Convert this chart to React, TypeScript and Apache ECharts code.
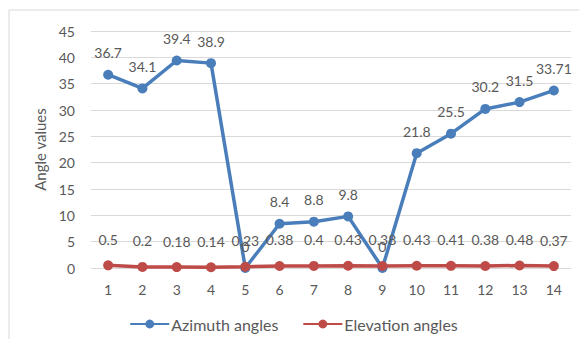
import React, { useEffect, useRef } from "react";
import * as echarts from "echarts";

const categories = ["1", "2", "3", "4", "5", "6", "7", "8", "9", "10", "11", "12", "13", "14"];
const azimuth = [36.7, 34.1, 39.4, 38.9, 0, 8.4, 8.8, 9.8, 0, 21.8, 25.5, 30.2, 31.5, 33.71];
const elevation = [0.5, 0.2, 0.18, 0.14, 0.23, 0.38, 0.4, 0.43, 0.38, 0.43, 0.41, 0.38, 0.48, 0.37];

const FONT = "Lato, 'Open Sans', sans-serif";
const TEXT = "#595959";

export default function App() {
  const ref = useRef<HTMLDivElement>(null);

  useEffect(() => {
    if (!ref.current) return;
    const chart = echarts.init(ref.current, undefined, { renderer: "svg" });
    const label = {
      show: true,
      position: "top" as const,
      distance: 10,
      color: TEXT,
      fontSize: 14,
      fontFamily: FONT,
    };
    chart.setOption({
      animation: false,
      textStyle: { fontFamily: FONT },
      graphic: [
        {
          type: "rect",
          shape: { x: 1, y: 2, width: 600, height: 360 },
          style: { fill: "none", stroke: "#d9d9d9", lineWidth: 1 },
          silent: true,
        },
      ],
      grid: { left: 83, right: 8, top: 23, bottom: 71 },
      legend: {
        bottom: 2,
        left: "center",
        itemWidth: 39,
        itemHeight: 11,
        itemGap: 24,
        textStyle: { color: TEXT, fontSize: 16, fontFamily: FONT, padding: [0, 0, 0, -3] },
        data: ["Azimuth angles", "Elevation angles"],
      },
      xAxis: {
        type: "category",
        data: categories,
        boundaryGap: true,
        axisLine: { show: false },
        axisTick: { show: false },
        axisLabel: { color: TEXT, fontSize: 14, fontFamily: FONT, margin: 14 },
      },
      yAxis: {
        type: "value",
        min: 0,
        max: 45,
        interval: 5,
        name: "Angle values",
        nameLocation: "middle",
        nameGap: 37,
        nameTextStyle: { color: TEXT, fontSize: 15, fontFamily: FONT },
        axisLine: { show: false },
        axisTick: { show: false },
        axisLabel: { color: TEXT, fontSize: 14, fontFamily: FONT, margin: 16 },
        splitLine: { lineStyle: { color: "#d9d9d9", width: 1 } },
      },
      series: [
        {
          name: "Azimuth angles",
          type: "line",
          data: azimuth,
          symbol: "circle",
          symbolSize: 10,
          lineStyle: { color: "#4a7ebb", width: 3.5 },
          itemStyle: { color: "#4a7ebb" },
          label,
        },
        {
          name: "Elevation angles",
          type: "line",
          data: elevation,
          symbol: "circle",
          symbolSize: 10,
          lineStyle: { color: "#be4b48", width: 3.5 },
          itemStyle: { color: "#be4b48" },
          label: { ...label, distance: 14 },
        },
      ],
    });
    return () => chart.dispose();
  }, []);

  return <div ref={ref} style={{ width: 571, height: 331 }} />;
}
